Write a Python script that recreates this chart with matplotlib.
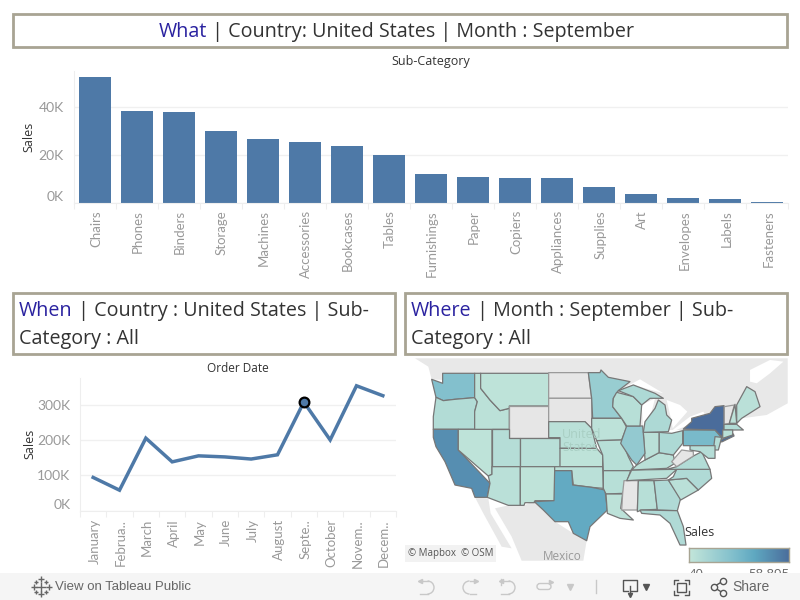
import matplotlib
matplotlib.use('Agg')
import matplotlib.pyplot as plt
from matplotlib.colors import LinearSegmentedColormap, Normalize
from matplotlib.patches import Arc, FancyBboxPatch, Polygon, Rectangle
import numpy as np

# bar chart
subCategories = ['Chairs', 'Phones', 'Binders', 'Storage', 'Machines', 'Accessories', 'Bookcases', 'Tables',
                 'Furnishings', 'Paper', 'Copiers', 'Appliances', 'Supplies', 'Art', 'Envelopes', 'Labels', 'Fasteners']
subSales = [52500, 38300, 37900, 30000, 26700, 25400, 23700, 20000,
            12100, 10800, 10400, 10400, 6700, 3750, 2100, 1700, 400]

# line chart
months = ['January', 'Februa..', 'March', 'April', 'May', 'June', 'July', 'August',
          'Septe..', 'October', 'Novem..', 'Decem..']
monthSales = [94000, 58000, 205000, 138000, 155000, 152000, 146000, 158000, 307000, 200000, 353000, 325000]
selectedMonth = 8

# state sales, estimated from the colours
stateSales = {'WA': 25000, 'OR': 7000, 'CA': 47000, 'NV': 2500, 'ID': 3500, 'MT': 2500, 'UT': 6000, 'CO': 4500,
              'AZ': 4000, 'NM': 2000, 'NE': 4000, 'KS': 2500, 'OK': 4000, 'TX': 37000, 'MN': 17000, 'IA': 3000,
              'MO': 5000, 'AR': 5000, 'LA': 3000, 'AL': 5000, 'GA': 8000, 'FL': 8000, 'SC': 4000, 'NC': 8000,
              'TN': 4000, 'KY': 4000, 'VA': 7000, 'OH': 9000, 'IN': 4000, 'IL': 19000, 'WI': 5000, 'MI': 9000,
              'MIU': 9000, 'PA': 29000, 'NY': 58895, 'NYL': 58895, 'NJ': 6000, 'MD': 6000, 'ME': 4000, 'NH': 3000,
              'MA': 7000, 'CT': 4000}
noDataStates = ['WY', 'ND', 'SD', 'MS', 'WV', 'VT']

# outlines, in map units
stateShapes = {
    'WA': [(128,70),(224,70),(224,143),(165,148),(130,152),(108,142),(95,88),(128,100)],
    'OR': [(108,142),(130,152),(165,148),(224,143),(232,155),(224,185),(224,238),(100,238),(100,200)],
    'CA': [(100,238),(175,238),(175,300),(270,400),(262,442),(225,442),(215,415),(165,405),(135,335),(108,290),(100,262)],
    'NV': [(175,238),(276,238),(276,373),(265,378),(175,300)],
    'ID': [(224,70),(242,70),(242,115),(270,150),(300,182),(328,175),(328,238),(224,238),(224,185),(232,155),(224,143)],
    'MT': [(242,70),(446,70),(446,168),(328,168),(328,175),(300,182),(270,150),(242,115)],
    'WY': [(328,168),(446,168),(446,263),(328,263)],
    'UT': [(276,238),(328,238),(328,263),(361,263),(361,350),(276,350)],
    'CO': [(361,263),(480,263),(480,350),(361,350)],
    'AZ': [(276,350),(361,350),(361,466),(325,466),(262,442),(270,400),(265,378),(276,373)],
    'NM': [(361,350),(464,350),(464,452),(405,452),(403,458),(375,458),(372,466),(361,466)],
    'ND': [(446,68),(565,68),(575,145),(446,145)],
    'SD': [(446,145),(575,145),(575,235),(555,215),(446,215)],
    'NE': [(446,215),(555,215),(575,235),(590,295),(480,295),(480,263),(446,263)],
    'KS': [(480,295),(590,295),(608,315),(608,350),(480,350)],
    'OK': [(464,350),(608,350),(610,415),(575,412),(520,405),(515,362),(464,362)],
    'TX': [(464,362),(515,362),(518,405),(575,412),(615,420),(622,480),(570,530),(560,572),(520,550),(505,515),(465,515),(430,480),(403,455),(462,452)],
    'MN': [(565,68),(600,68),(603,60),(625,82),(690,95),(655,122),(640,145),(638,170),(665,205),(578,205),(575,145)],
    'IA': [(575,205),(665,205),(680,232),(665,270),(590,272),(575,235)],
    'MO': [(590,272),(665,270),(685,320),(700,350),(692,362),(610,362),(608,315)],
    'AR': [(610,362),(692,362),(668,430),(618,432),(610,415)],
    'LA': [(618,432),(668,432),(662,475),(700,510),(660,505),(622,490)],
    'MS': [(672,392),(715,392),(712,480),(665,480),(668,430)],
    'AL': [(715,392),(762,392),(772,478),(725,480),(712,485)],
    'GA': [(762,392),(805,390),(842,445),(832,482),(772,480)],
    'FL': [(720,480),(832,482),(850,530),(858,585),(840,585),(810,520),(780,495),(725,490)],
    'SC': [(805,390),(860,385),(895,420),(842,450)],
    'NC': [(830,358),(930,358),(935,385),(895,420),(860,385),(805,390),(820,380)],
    'TN': [(695,360),(830,358),(800,385),(680,392)],
    'KY': [(710,345),(735,330),(777,308),(820,315),(825,340),(800,355),(695,360)],
    'VA': [(830,350),(850,337),(880,318),(905,305),(930,358),(800,358)],
    'WV': [(815,335),(845,300),(880,305),(880,318),(850,337),(830,350)],
    'OH': [(777,247),(815,250),(848,242),(848,280),(820,315),(777,308)],
    'IN': [(730,247),(777,247),(777,308),(735,330)],
    'IL': [(680,228),(728,228),(735,310),(710,345),(695,330),(662,280)],
    'WI': [(640,145),(650,127),(700,140),(725,165),(720,228),(680,228),(665,205),(638,170)],
    'MI': [(730,247),(805,245),(815,210),(800,195),(795,165),(775,150),(765,175),(750,195),(735,215)],
    'MIU': [(655,122),(700,105),(765,130),(790,145),(750,145),(725,165),(700,140)],
    'PA': [(850,240),(945,240),(962,260),(945,287),(850,287)],
    'NY': [(875,205),(930,190),(945,170),(972,167),(972,245),(965,260),(945,240),(850,237),(875,215)],
    'NYL': [(958,272),(1000,252),(1002,258),(965,276)],
    'NJ': [(945,260),(965,262),(955,300),(940,300)],
    'MD': [(870,287),(945,287),(945,325),(925,325),(900,305),(870,300)],
    'ME': [(1010,165),(1040,110),(1065,125),(1080,170),(1025,205),(1010,220)],
    'VT': [(973,170),(1003,165),(988,220),(973,223)],
    'NH': [(988,220),(1005,163),(1010,220)],
    'MA': [(972,223),(1010,223),(1030,240),(972,240)],
    'CT': [(968,240),(998,240),(998,255),(968,265)],
}
canadaShape = [(45,25),(1163,25),(1163,160),(1100,195),(1025,205),(1010,225),(950,240),(700,240),(640,180),(575,90),(128,90),(95,88),(85,50)]
stLawrenceShape = [(1050,60),(1110,30),(1150,35),(1110,70),(1070,100),(1050,95)]
mexicoShape = [(325,466),(372,466),(405,452),(465,515),(520,550),(560,572),(550,632),(365,632),(335,560),(285,475)]
bajaShape = [(225,442),(265,445),(272,490),(335,595),(305,590),(250,490)]
lakeShapes = [[(650,125),(720,88),(790,130),(700,105)],
              [(815,215),(800,150),(840,165),(862,185),(818,235)],
              [(805,250),(870,200),(910,185),(920,205),(865,225)],
              [(725,165),(765,145),(755,185),(735,215),(730,245)]]

legendMin, legendMax = 40, 58895
blue = '#4e79a7'
border = '#a8a493'
scale = LinearSegmentedColormap.from_list('sales', [(0, '#c4e6da'), (0.45, '#7fbecc'), (0.65, '#5fa8c1'), (1, '#4a6c9b')])
norm = Normalize(legendMin, legendMax)
TEXT = 'Open Sans'
LIGHT = 'Lato'
FOOT = 'Liberation Sans'


def addAxes(fig, left, top, right, bottom):
    return fig.add_axes([left/800, 1-bottom/600, (right-left)/800, (bottom-top)/600])


def styleAxes(ax, ticks, labels):
    for side in ['top', 'right']:
        ax.spines[side].set_visible(False)
    ax.spines['left'].set_color('#eeeeee')
    ax.spines['bottom'].set_color('#eeeeee')
    ax.set_yticks(ticks)
    ax.set_yticklabels(labels, fontsize=10, color='#999999', family=LIGHT)
    ax.get_yticklabels()[0].set_va('bottom')
    ax.tick_params(axis='y', length=0, pad=7)
    ax.tick_params(axis='x', length=4, color='#eeeeee', pad=5)
    ax.grid(axis='y', color='#f0f0f0', linewidth=1)
    ax.set_axisbelow(True)
    ax.set_ylabel('Sales', fontsize=9, color='#333333', family=TEXT)


def titleBox(page, left, top, right, bottom, lines, center=None):
    page.add_patch(Rectangle((left, top), right-left, bottom-top, facecolor='white', edgecolor=border, linewidth=2))
    renderer = page.figure.canvas.get_renderer()
    for y, parts in lines:
        t = [page.text(0, y, s, color=c, fontsize=14.2, family=TEXT, va='center') for s, c in parts]
        widths = [a.get_window_extent(renderer).width for a in t]
        x = center-sum(widths)/2 if center else left+6
        for a, w in zip(t, widths):
            a.set_x(x)
            x += w


def rotatedLabels(ax, names, offset):
    for i, name in enumerate(names):
        ax.annotate(name, (i, 0), xytext=(1, offset), textcoords='offset points', rotation=90, ha='center', va='top',
                    fontsize=9.5, color='#999999', family=LIGHT, annotation_clip=False)


fig = plt.figure(figsize=(8, 6), dpi=100)

page = fig.add_axes([0, 0, 1, 1], zorder=5)
page.set_xlim(0, 800)
page.set_ylim(600, 0)
page.axis('off')
page.patch.set_alpha(0)

titleBox(page, 13, 14, 787, 47, [(32, [('What', '#2a22a0'), (' | Country: United States | Month : September', '#333333')])], 396)
titleBox(page, 13, 293, 395, 354, [(311, [('When', '#2a22a0'), (' | Country : United States | Sub-', '#333333')]),
                                   (339, [('Category : All', '#333333')])])
titleBox(page, 405, 293, 787, 354, [(311, [('Where', '#2a22a0'), (' | Month : September | Sub-', '#333333')]),
                                    (339, [('Category : All', '#333333')])])

# bars
ax1 = addAxes(fig, 73.5, 71, 788, 203)
ax1.bar(range(len(subSales)), subSales, width=32/42, color=blue)
ax1.set_xlim(-0.5, len(subSales)-0.5)
ax1.set_ylim(0, 55000)
styleAxes(ax1, [0, 20000, 40000], ['0K', '20K', '40K'])
ax1.set_xticks(np.arange(len(subSales)+1)-0.5)
ax1.set_xticklabels([])
rotatedLabels(ax1, subCategories, -5)
ax1.yaxis.set_label_coords(-0.053, 0.5)
page.text(430.5, 61, 'Sub-Category', ha='center', va='center', fontsize=9, color='#333333', family=TEXT)

# line
ax2 = addAxes(fig, 80, 378, 396, 510.7)
ax2.plot(range(12), monthSales, color=blue, linewidth=2.5, solid_joinstyle='miter')
ax2.plot(selectedMonth, monthSales[selectedMonth], 'o', color=blue, markersize=7,
         markeredgecolor='black', markeredgewidth=1.6)
ax2.set_xlim(-0.5, 11.5)
ax2.set_ylim(0, 375000)
styleAxes(ax2, [0, 100000, 200000, 300000], ['0K', '100K', '200K', '300K'])
ax2.set_xticks(np.arange(13)-0.5)
ax2.set_xticklabels([])
rotatedLabels(ax2, months, -6)
ax2.yaxis.set_label_coords(-0.139, 0.5)
page.text(238, 368, 'Order Date', ha='center', va='center', fontsize=8.5, color='#333333', family=TEXT)

# map, units are 3 to a pixel
ax3 = addAxes(fig, 404.3, 358.3, 787.7, 560.7)
ax3.set_xlim(13, 1163)
ax3.set_ylim(632, 25)
ax3.axis('off')
for shape in [canadaShape, mexicoShape, bajaShape]:
    ax3.add_patch(Polygon(shape, facecolor='#e8e8e8', edgecolor='none'))
ax3.add_patch(Polygon(stLawrenceShape, facecolor='white', edgecolor='none'))
for shape in lakeShapes:
    ax3.add_patch(Polygon(shape, facecolor='white', edgecolor='none'))
for name, shape in stateShapes.items():
    if name in noDataStates:
        color = '#e6e6e6'
        edge = '#9a9a9a'
    else:
        color = scale(norm(stateSales[name]))
        edge = '#777777'
    ax3.add_patch(Polygon(shape, facecolor=color, edgecolor=edge, linewidth=0.9, joinstyle='round'))
ax3.text(487, 254, 'United', fontsize=9, color='#a9cfc4', family=TEXT, va='center')
ax3.text(487, 293, 'States', fontsize=9, color='#a9cfc4', family=TEXT, va='center')
ax3.text(487, 618, 'Mexico', fontsize=8.5, color='#999999', family=TEXT, ha='center', va='center')
ax3.text(24, 611, '© Mapbox  © OSM', fontsize=7, color='#555555', family=TEXT, va='center',
         bbox=dict(facecolor='#f2f2f2', edgecolor='none', pad=2))

# legend
page.text(684, 533, 'Sales', fontsize=9, color='#333333', family=TEXT, va='center')
legendAx = addAxes(fig, 688.5, 547.5, 789, 562)
legendAx.imshow(np.linspace(0, 1, 256).reshape(1, -1), cmap=scale, aspect='auto')
legendAx.set_xticks([])
legendAx.set_yticks([])
for side in legendAx.spines.values():
    side.set_color(border)
    side.set_linewidth(1)
page.text(689, 574, str(legendMin), fontsize=9.5, color='#666666', family=TEXT, va='center')
page.text(789, 574, f'{legendMax:,}', fontsize=9.5, color='#666666', family=TEXT, va='center', ha='right')

# footer bar covers the legend numbers like in the embed
foot = fig.add_axes([0, 0, 1, 1], zorder=8)
foot.set_xlim(0, 800)
foot.set_ylim(600, 0)
foot.axis('off')
foot.patch.set_alpha(0)
foot.add_patch(Rectangle((0, 573), 800, 27, facecolor='#f5f5f5', edgecolor='none'))
foot.text(55, 586.5, 'View on Tableau Public', fontsize=9.5, color='#666666', family=FOOT, va='center')
for dx, dy, size in [(0, 0, 7), (0, -7.5, 4), (0, 7.5, 4), (-7.5, 0, 4), (7.5, 0, 4),
                     (-5, -5, 3), (5, -5, 3), (-5, 5, 3), (5, 5, 3)]:
    foot.plot([41+dx], [586.5+dy], marker='+', markersize=size, color='#666666', markeredgewidth=1)

iconGray = '#c8c8c8'
iconDark = '#555555'


def loopIcon(x0, x1, flip):
    # half round arrow for undo and redo
    r = 6.5
    if flip:
        foot.add_patch(Arc((x1-r, 587.5), 2*r, 13, theta1=90, theta2=270, color=iconGray, linewidth=1))
        foot.plot([x1-r, x1], [581, 581], color=iconGray, linewidth=1)
        foot.plot([x1-r, x1], [594, 594], color=iconGray, linewidth=1)
        foot.plot([x1], [581], marker='>', markersize=3, color=iconGray)
    else:
        foot.add_patch(Arc((x0+r, 587.5), 2*r, 13, theta1=-90, theta2=90, color=iconGray, linewidth=1))
        foot.plot([x0-1, x0+r], [581, 581], color=iconGray, linewidth=1)
        foot.plot([x0-1, x0+r], [594, 594], color=iconGray, linewidth=1)
        foot.plot([x0-1], [581], marker='<', markersize=3, color=iconGray)


loopIcon(421, 435, False)
loopIcon(460, 476, True)
loopIcon(502, 516, False)
foot.plot([500.5, 500.5], [579, 585], color=iconGray, linewidth=1)
foot.add_patch(FancyBboxPatch((537, 583.5), 14, 6, boxstyle='round,pad=0,rounding_size=3', facecolor='none',
                              edgecolor=iconGray, linewidth=1))
foot.plot([551], [582], marker='>', markersize=3, color=iconGray)
foot.plot([570], [587], marker='v', markersize=5, color=iconGray)
foot.plot([595.5, 595.5], [580, 593], color=iconGray, linewidth=1)
foot.plot([628, 622.5, 622.5, 636.5, 636.5, 631], [591, 591, 579.5, 579.5, 591, 591], color=iconDark, linewidth=1)
foot.plot([629.5, 629.5], [586, 595], color=iconDark, linewidth=1)
foot.plot([629.5], [595], marker='v', markersize=3, color=iconDark)
foot.plot([646], [587], marker='v', markersize=5, color=iconDark)
foot.add_patch(Rectangle((677, 583), 9, 9, facecolor='none', edgecolor=iconDark, linewidth=1))
for cx, cy, ax_, ay_ in [(674, 580, 1, 1), (689, 580, -1, 1), (674, 595, 1, -1), (689, 595, -1, -1)]:
    foot.plot([cx+4*ax_, cx, cx], [cy, cy, cy+4*ay_], color=iconDark, linewidth=1)
foot.plot([723, 713.5, 723], [581, 587, 593], color=iconDark, linewidth=1)
foot.plot([713.5, 723, 723], [587, 581, 593], 'o', markersize=4.5, markerfacecolor='#f5f5f5',
          markeredgecolor=iconDark, markeredgewidth=1, linestyle='none')
foot.text(732, 587, 'Share', fontsize=10, color='#666666', family=FOOT, va='center')

fig.savefig('out.png', dpi=100)
